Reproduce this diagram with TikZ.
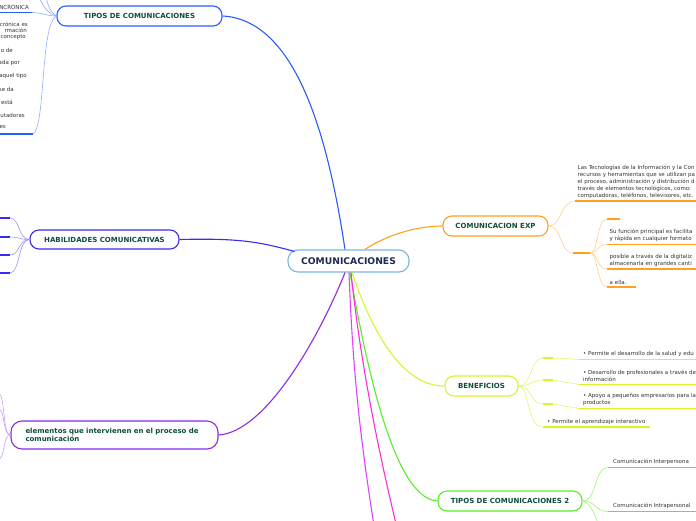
\documentclass[tikz,border=0pt]{standalone}
\usepackage{fontspec}
\setmainfont{DejaVu Sans}
\definecolor{titlegreen}{HTML}{0E4D3C}
\definecolor{centerblue}{HTML}{7AB6E2}
\definecolor{navy}{HTML}{1B2A4E}
\definecolor{tiposblue}{HTML}{2A5BFF}
\definecolor{habviolet}{HTML}{3A2AF5}
\definecolor{elempurple}{HTML}{8A2BE8}
\definecolor{exporange}{HTML}{FFA11C}
\definecolor{benyellow}{HTML}{D8F52A}
\definecolor{tipgreen}{HTML}{5AEE2A}
\definecolor{magviolet}{HTML}{DD44FF}
\definecolor{magpink}{HTML}{FF2ED2}
\definecolor{leafgray}{HTML}{333333}
\begin{document}
\begin{tikzpicture}[x=1pt, y=-1pt,
  topic/.style={draw, fill=white, rounded corners=9pt, line width=1.1pt, minimum height=20pt, inner sep=2pt, text=titlegreen, font=\fontsize{7}{8.4}\selectfont\bfseries},
  leaf/.style={inner xsep=2.5pt, inner ysep=2.5pt, text=leafgray, font=\fontsize{5.5}{6.8}\selectfont, align=left},
  frag/.style={inner sep=0pt, text=leafgray, font=\fontsize{5.5}{6.8}\selectfont},
  stub/.style={inner sep=0pt, minimum height=1.6pt, minimum width=10pt},
  branch/.style={line width=1.1pt},
  twig/.style={line width=0.6pt},
  uline/.style={line width=1.5pt}]
\path[use as bounding box, fill=white] (0,0) rectangle (696,520);
\coordinate (wedge) at (-5,0);
\coordinate (eedge) at (701,0);

\node[topic, draw=centerblue, text=navy, minimum width=121pt, minimum height=22pt, rounded corners=10pt, font=\fontsize{9.2}{11}\selectfont\bfseries] (root) at (348.5,261) {COMUNICACIONES};

\node[topic, draw=tiposblue, minimum width=165pt] (tipos) at (139.5,16) {TIPOS DE COMUNICACIONES};
\node[topic, draw=habviolet, minimum width=149pt, minimum height=19pt] (habil) at (104.5,239.5) {HABILIDADES COMUNICATIVAS};
\node[topic, draw=elempurple, minimum width=207pt, minimum height=28pt, rounded corners=11pt, text width=178pt, align=left] (elem) at (114.5,435) {elementos que intervienen en el proceso de\\comunicación};
\node[topic, draw=exporange, minimum width=105pt] (exp) at (495.5,226) {COMUNICACION EXP};
\node[topic, draw=benyellow, minimum width=73pt] (benef) at (481.5,386) {BENEFICIOS};
\node[topic, draw=tipgreen, minimum width=144pt] (tipos2) at (510,501) {TIPOS DE COMUNICACIONES 2};

\coordinate (m1) at (375,532);
\coordinate (m2) at (398,532);

\draw[branch, tiposblue] ([xshift=-3.5pt]root.north) .. controls (330,150) and (300,20) .. (tipos.east);
\draw[branch, habviolet] ([xshift=7pt,yshift=-2pt]root.north west) .. controls (260,242) and (240,238) .. (habil.east);
\draw[branch, elempurple] ([xshift=-3.5pt]root.south) .. controls (318,340) and (265,432) .. (elem.east);
\draw[branch, exporange] ([xshift=16.5pt]root.north) .. controls (385,236) and (415,226) .. (exp.west);
\draw[branch, benyellow] ([xshift=3.5pt]root.south) .. controls (375,340) and (405,386) .. (benef.west);
\draw[branch, tipgreen] ([xshift=1.5pt]root.south) .. controls (372,400) and (400,499) .. (tipos2.west);
\draw[branch, magviolet] ([xshift=0.5pt]root.south) .. controls (353,380) and (362,450) .. (m1);
\draw[branch, magpink] ([xshift=2.5pt]root.south) .. controls (360,360) and (378,450) .. (m2);

\node[frag, anchor=south east, inner xsep=3pt, inner ysep=2.5pt] (t1) at (32,12.5) {NCRÓNICA};
\foreach \txt/\xr/\yy [count=\i] in {crónica es/28/24, rmación/27/30.5, concepto/26/37, o de/13/50, ada por/20/63, aquel tipo/27/76, se da/14/89, está/13/102, utadoras/25/115, es/6/127}
  \node[frag, anchor=east] (tl\i) at (\xr,\yy) {\txt};
\coordinate (tdown) at (33,134);
\coordinate (u1) at (39,-3);
\coordinate (u2) at (46,-3);
\draw[uline, tiposblue] (t1.south east) -- (t1.south east -| wedge);
\draw[uline, tiposblue] (tdown) -- (tdown -| wedge);
\draw[twig, tiposblue!50] (tipos.west) .. controls (46,16) and (42,12.5) .. (t1.south east);
\draw[twig, tiposblue!50] (tipos.west) .. controls (48,14) and (43,6) .. (u1);
\draw[twig, tiposblue!50] (tipos.west) .. controls (51,13) and (48,6) .. (u2);
\draw[twig, tiposblue!50] (tipos.west) .. controls (40,25) and (46,125) .. (tdown);

\foreach \yy [count=\i] in {218,237,255,273} {
  \coordinate (h\i) at (10,\yy);
  \draw[uline, habviolet] (h\i) -- (h\i -| wedge);
  \draw[twig, habviolet!50] (habil.west) .. controls (18,239.5) and (20,\yy) .. (h\i);
}

\foreach \yy [count=\i] in {392,408,460} {
  \coordinate (p\i) at (-3,\yy);
  \draw[twig, elempurple!45] (elem.west) .. controls (2,435) and (6,\yy) .. (p\i);
}

\node[leaf, anchor=south west] (e1) at (575,201) {Las Tecnologías de la Información y la Con\\recursos y herramientas que se utilizan pa\\el proceso, administración y distribución d\\través de elementos tecnológicos, como:\\computadoras, teléfonos, televisores, etc.};
\node[stub, fill=exporange, minimum width=17pt] (es) at (581.5,253) {};
\node[stub, fill=exporange, minimum width=13pt] (es2) at (613.5,219) {};
\node[leaf, anchor=south west] (e2) at (607,244.5) {Su función principal es facilita\\y rápida en cualquier formato};
\node[leaf, anchor=south west] (e3) at (607,269) {posible a través de la digitaliz\\almacenarla en grandes canti};
\node[leaf, anchor=south west, text width=24pt] (e4) at (607,287) {a ella.};
\draw[uline, exporange] (e1.south west) -- (e1.south west -| eedge);
\draw[uline, exporange] (e2.south west) -- (e2.south west -| eedge);
\draw[uline, exporange] (e3.south west) -- (e3.south west -| eedge);
\draw[uline, exporange] (e4.south west) -- (e4.south east);
\draw[twig, exporange!50] (exp.east) .. controls (562,226) and (560,201) .. (e1.south west);
\draw[twig, exporange!50] (exp.east) .. controls (562,226) and (560,253) .. (es.west);
\draw[twig, exporange!50] (es.east) .. controls (598,253) and (597,219) .. (es2.west);
\draw[twig, exporange!50] (es.east) .. controls (598,253) and (597,244.5) .. (e2.south west);
\draw[twig, exporange!50] (es.east) .. controls (598,253) and (597,269) .. (e3.south west);
\draw[twig, exporange!50] (es.east) .. controls (598,253) and (597,287) .. (e4.south west);

\node[stub, fill=benyellow] (bs1) at (548,358) {};
\node[stub, fill=benyellow] (bs2) at (548,380) {};
\node[stub, fill=benyellow] (bs3) at (548,404) {};
\node[leaf, anchor=south west, inner xsep=4pt] (b1) at (579,359.5) {• Permite el desarrollo de la salud y edu};
\node[leaf, anchor=south west, inner xsep=4pt] (b2) at (579,384.5) {• Desarrollo de profesionales a través de\\información};
\node[leaf, anchor=south west, inner xsep=4pt] (b3) at (579,408.5) {• Apoyo a pequeños empresarios para la\\productos};
\node[leaf, anchor=south west, inner xsep=4pt, text width=99pt] (b4) at (543,427) {• Permite el aprendizaje interactivo};
\draw[uline, benyellow] (b1.south west) -- (b1.south west -| eedge);
\draw[uline, benyellow] (b2.south west) -- (b2.south west -| eedge);
\draw[uline, benyellow] (b3.south west) -- (b3.south west -| eedge);
\draw[uline, benyellow] (b4.south west) -- (b4.south east);
\draw[twig, benyellow!70] (benef.east) .. controls (532,386) and (530,358) .. (bs1.west);
\draw[twig, benyellow!70] (benef.east) .. controls (532,386) and (530,380) .. (bs2.west);
\draw[twig, benyellow!70] (benef.east) .. controls (532,386) and (530,404) .. (bs3.west);
\draw[twig, benyellow!70] (benef.east) .. controls (530,386) and (526,427) .. (b4.south west);
\draw[twig, benyellow!70] (bs1.east) -- (b1.south west);
\draw[twig, benyellow!70] (bs2.east) -- (b2.south west);
\draw[twig, benyellow!70] (bs3.east) -- (b3.south west);

\node[leaf, anchor=south west, inner xsep=5pt] (g1) at (608,467.5) {Comunicación Interpersona};
\node[leaf, anchor=south west, inner xsep=5pt] (g2) at (608,511.5) {Comunicación Intrapersonal};
\coordinate (g3) at (599,526);
\draw[uline, tipgreen] (g1.south west) -- (g1.south west -| eedge);
\draw[uline, tipgreen] (g2.south west) -- (g2.south west -| eedge);
\draw[twig, tipgreen!60] (tipos2.east) .. controls (597,501) and (594,467.5) .. (g1.south west);
\draw[twig, tipgreen!60] (tipos2.east) .. controls (597,501) and (594,511.5) .. (g2.south west);
\draw[twig, tipgreen!60] (tipos2.east) .. controls (590,503) and (594,512) .. (g3);
\end{tikzpicture}
\end{document}
